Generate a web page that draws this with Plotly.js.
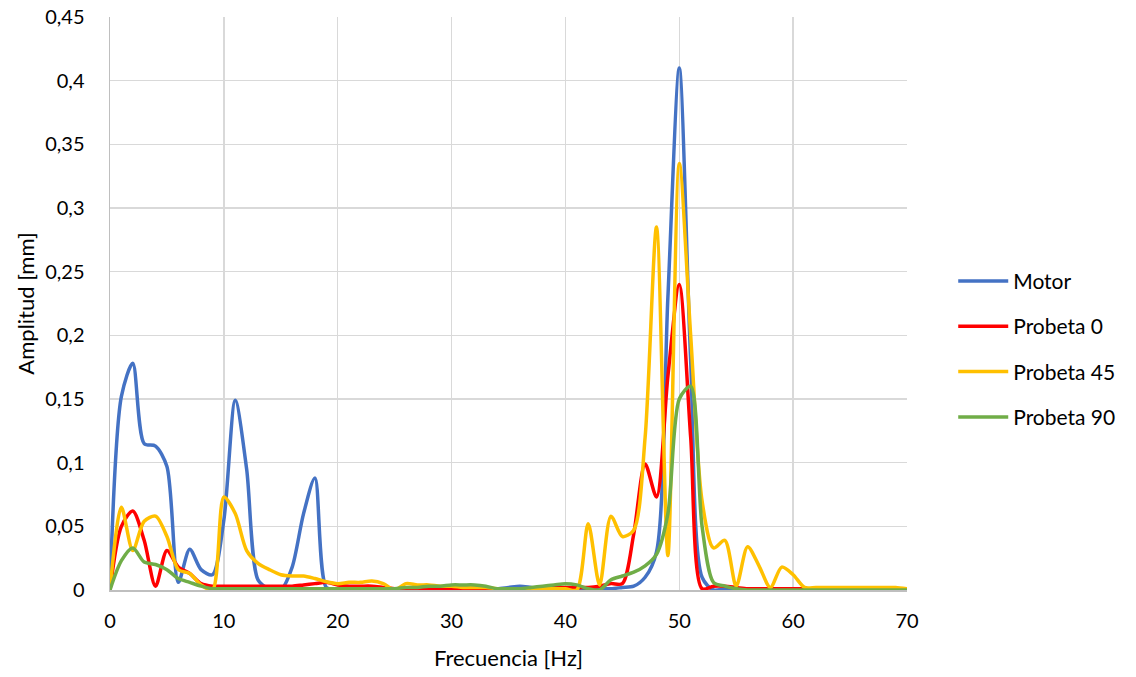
<!DOCTYPE html>
<html>
<head>
<meta charset="utf-8">
<script src="https://cdn.plot.ly/plotly-3.0.1.min.js"></script>
<style>html,body{margin:0;padding:0;background:#fff;}#chart{width:1136px;height:677px;}</style>
</head>
<body>
<div id="chart"></div>
<script>
const freq = [];
for (let i = 0; i <= 70; i++) freq.push(i);

const motor = [0, 0.152, 0.178, 0.115, 0.113, 0.097, 0.006, 0.032, 0.016, 0.012,
  0.055, 0.149, 0.095, 0.008, 0.001, 0.000, 0.018, 0.060, 0.088, 0.002,
  0.001, 0.001, 0.001, 0.001, 0.001, 0.001, 0.001, 0.001, 0.001, 0.001,
  0.001, 0.001, 0.001, 0.001, 0.001, 0.002, 0.003, 0.002, 0.001, 0.001,
  0.001, 0.001, 0.001, 0.001, 0.001, 0.002, 0.003, 0.010, 0.030, 0.230,
  0.410, 0.180, 0.010, 0.000, 0.001, 0.001, 0.001, 0.001, 0.001, 0.001,
  0.001, 0.001, 0.001, 0.001, 0.001, 0.001, 0.001, 0.001, 0.001, 0.001, 0.001];

const probeta0 = [0, 0.050, 0.062, 0.039, 0.003, 0.031, 0.018, 0.013, 0.005, 0.003,
  0.003, 0.003, 0.003, 0.003, 0.003, 0.003, 0.003, 0.004, 0.005, 0.006,
  0.004, 0.003, 0.003, 0.003, 0.002, 0.001, 0.000, 0.001, 0.001, 0.001,
  0.001, 0.001, 0.001, 0.001, 0.001, 0.001, 0.001, 0.001, 0.002, 0.002,
  0.002, 0.002, 0.002, 0.003, 0.005, 0.005, 0.044, 0.099, 0.073, 0.168,
  0.240, 0.120, 0.001, 0.003, 0.003, 0.002, 0.001, 0.001, 0.001, 0.001,
  0.001, 0.001, 0.001, 0.001, 0.001, 0.001, 0.001, 0.001, 0.001, 0.001, 0.001];

const probeta45 = [0, 0.065, 0.031, 0.054, 0.058, 0.042, 0.016, 0.013, 0.004, 0.000,
  0.073, 0.060, 0.031, 0.021, 0.016, 0.012, 0.011, 0.011, 0.009, 0.0065,
  0.005, 0.006, 0.006, 0.007, 0.005, 0.000, 0.005, 0.004, 0.004, 0.003,
  0.003, 0.002, 0.002, 0.002, 0.001, 0.001, 0.001, 0.001, 0.001, 0.001,
  0.001, 0.000, 0.052, 0.004, 0.058, 0.042, 0.047, 0.120, 0.285, 0.027,
  0.335, 0.200, 0.070, 0.033, 0.039, 0.003, 0.034, 0.019, 0.002, 0.018,
  0.012, 0.002, 0.002, 0.002, 0.002, 0.002, 0.002, 0.002, 0.002, 0.002, 0.001];

const probeta90 = [0, 0.023, 0.033, 0.022, 0.020, 0.016, 0.009, 0.006, 0.003, 0.001,
  0.001, 0.001, 0.001, 0.001, 0.001, 0.001, 0.001, 0.001, 0.001, 0.001,
  0.001, 0.001, 0.001, 0.001, 0.001, 0.001, 0.002, 0.002, 0.003, 0.003,
  0.004, 0.004, 0.004, 0.003, 0.001, 0.001, 0.001, 0.002, 0.003, 0.004,
  0.005, 0.004, 0.001, 0.000, 0.008, 0.011, 0.014, 0.019, 0.028, 0.060,
  0.150, 0.160, 0.050, 0.006, 0.003, 0.001, 0.000, 0.000, 0.000, 0.000,
  0.000, 0.000, 0.000, 0.000, 0.000, 0.000, 0.000, 0.000, 0.000, 0.000, 0.000];

const seriesNames = ['Motor', 'Probeta 0', 'Probeta 45', 'Probeta 90'];
const seriesColors = ['#4472C4', '#FF0000', '#FFC000', '#70AD47'];
const seriesData = [motor, probeta0, probeta45, probeta90];

const font = 'Lato, "Open Sans", "Noto Sans", sans-serif';

const traces = seriesData.map((d, i) => ({
  x: freq, y: d, type: 'scatter', mode: 'lines', name: seriesNames[i],
  legendgroup: 'g' + i,
  line: {color: seriesColors[i], width: 3.5, shape: 'spline', smoothing: 0.8},
  hoverinfo: 'x+y'
}));

const layout = {
  width: 1136, height: 677,
  margin: {l: 110, r: 229, t: 17, b: 87},
  paper_bgcolor: '#ffffff', plot_bgcolor: '#ffffff',
  separators: ',.',
  font: {family: font, size: 20, color: '#000000'},
  showlegend: true,
  legend: {
    x: 1.058, xanchor: 'left', y: 0.42, yanchor: 'middle',
    font: {family: font, size: 21, color: '#000'},
    traceorder: 'grouped', tracegroupgap: 15, itemwidth: 50
  },
  xaxis: {
    range: [0, 70], dtick: 10, tick0: 0,
    showgrid: true, gridcolor: '#d9d9d9', gridwidth: 1.5,
    zeroline: false, showline: true, linecolor: '#bfbfbf', linewidth: 1.5,
    ticks: '', ticklabelstandoff: 12, tickfont: {family: font, size: 20, color: '#000'},
    title: {text: 'Frecuencia [Hz]', font: {family: font, size: 22, color: '#000'}, standoff: 20}
  },
  yaxis: {
    range: [0, 0.45], dtick: 0.05, tick0: 0,
    showgrid: true, gridcolor: '#d9d9d9', gridwidth: 1.5,
    zeroline: false, showline: true, linecolor: '#bfbfbf', linewidth: 1.5,
    ticks: '', ticklabelstandoff: 20, tickfont: {family: font, size: 20, color: '#000'},
    title: {text: 'Amplitud [mm]', font: {family: font, size: 22, color: '#000'}, standoff: 4}
  }
};

Plotly.newPlot('chart', traces, layout, {displayModeBar: false, staticPlot: true});
</script>
</body>
</html>
